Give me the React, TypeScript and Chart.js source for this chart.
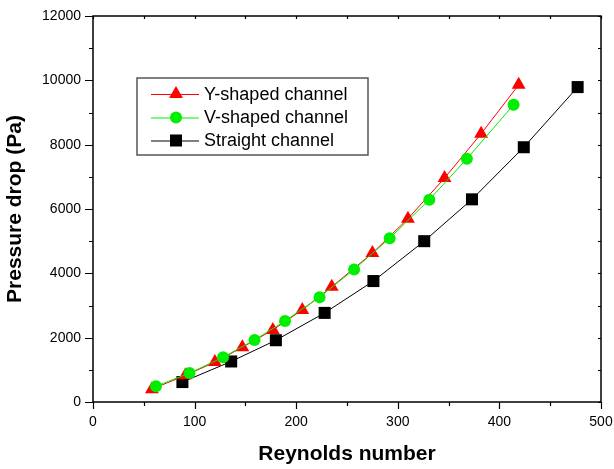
import React, { useEffect, useRef } from "react";
import { Chart, registerables } from "chart.js";

Chart.register(...registerables);

const yShapedRe = [58, 91, 120, 147, 177, 206, 235, 275, 310, 346, 382, 419];
const yShapedDp = [400, 830, 1240, 1700, 2240, 2860, 3580, 4630, 5700, 6960, 8340, 9860];

const vShapedRe = [62, 95, 128, 159, 189, 223, 257, 292, 331, 368, 414];
const vShapedDp = [490, 900, 1390, 1930, 2520, 3260, 4120, 5090, 6290, 7560, 9240];

const straightRe = [88, 136, 180, 228, 276, 326, 373, 424, 477];
const straightDp = [620, 1260, 1920, 2770, 3760, 5000, 6300, 7920, 9790];

const seriesNames = ["Y-shaped channel", "V-shaped channel", "Straight channel"];
const xTitle = "Reynolds number";
const yTitle = "Pressure drop (Pa)";

const FONT = "'Liberation Sans', Arial, Helvetica, sans-serif";

const toPts = (xs: number[], ys: number[]) => xs.map((x, i) => ({ x, y: ys[i] }));

function drawMarker(ctx: CanvasRenderingContext2D, style: string, x: number, y: number, color: string) {
  ctx.save();
  ctx.fillStyle = color;
  ctx.beginPath();
  if (style === "triangle") {
    const r = 8;
    ctx.moveTo(x, y - r);
    ctx.lineTo(x + r * 0.866, y + r * 0.5);
    ctx.lineTo(x - r * 0.866, y + r * 0.5);
    ctx.closePath();
  } else if (style === "circle") {
    ctx.arc(x, y, 6, 0, Math.PI * 2);
  } else {
    ctx.rect(x - 6, y - 6, 12, 12);
  }
  ctx.fill();
  ctx.restore();
}

const framePlugin = {
  id: "frameTicks",
  afterDraw(chart: any) {
    const { ctx, chartArea: a, scales } = chart;
    const xs = scales.x;
    const ys = scales.y;
    ctx.save();
    ctx.strokeStyle = "#000";
    ctx.lineWidth = 1.5;
    ctx.strokeRect(a.left, a.top, a.right - a.left, a.bottom - a.top);
    ctx.lineWidth = 1.2;
    ctx.beginPath();
    for (let v = 0; v <= 500; v += 50) {
      const px = Math.round(xs.getPixelForValue(v)) + 0.5;
      const major = v % 100 === 0;
      ctx.moveTo(px, a.bottom);
      ctx.lineTo(px, a.bottom + (major ? 7 : 4));
      ctx.moveTo(px, a.top);
      ctx.lineTo(px, a.top + 3);
    }
    for (let v = 0; v <= 12000; v += 1000) {
      const py = Math.round(ys.getPixelForValue(v)) + 0.5;
      const major = v % 2000 === 0;
      ctx.moveTo(a.left, py);
      ctx.lineTo(a.left - (major ? 8 : 4), py);
      ctx.moveTo(a.right, py);
      ctx.lineTo(a.right - 3, py);
    }
    ctx.stroke();

    // legend
    const bx = a.left + 44;
    const by = a.top + 62;
    const bw = 231;
    const bh = 77;
    ctx.fillStyle = "#fff";
    ctx.fillRect(bx, by, bw, bh);
    ctx.strokeStyle = "#555";
    ctx.lineWidth = 1.5;
    ctx.strokeRect(bx, by, bw, bh);
    const colors = ["#ff0000", "#00ee00", "#000000"];
    const styles = ["triangle", "circle", "rect"];
    const rows = [16, 39.5, 62.5];
    ctx.font = `18px ${FONT}`;
    ctx.textBaseline = "middle";
    ctx.textAlign = "left";
    rows.forEach((dy, i) => {
      const cy = by + dy;
      ctx.strokeStyle = colors[i];
      ctx.lineWidth = 1;
      ctx.beginPath();
      ctx.moveTo(bx + 14, cy + 0.5);
      ctx.lineTo(bx + 62, cy + 0.5);
      ctx.stroke();
      drawMarker(ctx, styles[i], bx + 39, cy, colors[i]);
      ctx.fillStyle = "#000";
      ctx.fillText(seriesNames[i], bx + 67, cy + 1);
    });
    ctx.restore();
  },
};

export default function App() {
  const ref = useRef<HTMLCanvasElement | null>(null);
  useEffect(() => {
    if (!ref.current) return;
    const chart = new Chart(ref.current, {
      type: "scatter",
      data: {
        datasets: [
          {
            label: seriesNames[1],
            data: toPts(vShapedRe, vShapedDp),
            showLine: true,
            borderColor: "#00ee00",
            backgroundColor: "#00ee00",
            borderWidth: 1,
            pointStyle: "circle",
            pointRadius: 6,
            pointBorderWidth: 0,
            order: 0,
          },
          {
            label: seriesNames[0],
            data: toPts(yShapedRe, yShapedDp),
            showLine: true,
            borderColor: "#ff0000",
            backgroundColor: "#ff0000",
            borderWidth: 1,
            pointStyle: "triangle",
            pointRadius: 8,
            pointBorderWidth: 0,
            order: 1,
          },
          {
            label: seriesNames[2],
            data: toPts(straightRe, straightDp),
            showLine: true,
            borderColor: "#000000",
            backgroundColor: "#000000",
            borderWidth: 1,
            pointStyle: "rect",
            pointRadius: 8.5,
            pointBorderWidth: 0,
            order: 2,
          },
        ],
      },
      options: {
        animation: false,
        responsive: false,
        layout: { padding: { top: 16, right: 13, left: 0, bottom: 0 } },
        plugins: { legend: { display: false }, tooltip: { enabled: false } },
        scales: {
          x: {
            type: "linear",
            min: 0,
            max: 500,
            grid: { display: false, drawTicks: false },
            border: { display: false },
            ticks: {
              stepSize: 100,
              padding: 12,
              color: "#000",
              font: { family: FONT, size: 14 },
              callback: (v: any) => String(v),
            },
            title: {
              display: true,
              text: xTitle,
              color: "#000",
              font: { family: FONT, size: 21, weight: "bold" },
              padding: { top: 0, bottom: 2 },
            },
            afterFit: (s: any) => {
              s.height = 67;
              s.paddingLeft = 0;
              s.paddingRight = 0;
            },
          },
          y: {
            type: "linear",
            min: 0,
            max: 12000,
            grid: { display: false, drawTicks: false },
            border: { display: false },
            ticks: {
              stepSize: 2000,
              padding: 12,
              color: "#000",
              font: { family: FONT, size: 14 },
              callback: (v: any) => String(v),
            },
            title: {
              display: true,
              text: yTitle,
              color: "#000",
              font: { family: FONT, size: 21, weight: "bold" },
              padding: { top: 3, bottom: 0 },
            },
            afterFit: (s: any) => {
              s.width = 93;
              s.paddingTop = 0;
              s.paddingBottom = 0;
            },
          },
        },
      },
      plugins: [framePlugin],
    });
    return () => chart.destroy();
  }, []);
  return (
    <div style={{ position: "fixed", left: 0, top: 0, width: 614, height: 469, background: "#fff" }}>
      <canvas ref={ref} width={614} height={469} style={{ width: 614, height: 469, display: "block" }} />
    </div>
  );
}
